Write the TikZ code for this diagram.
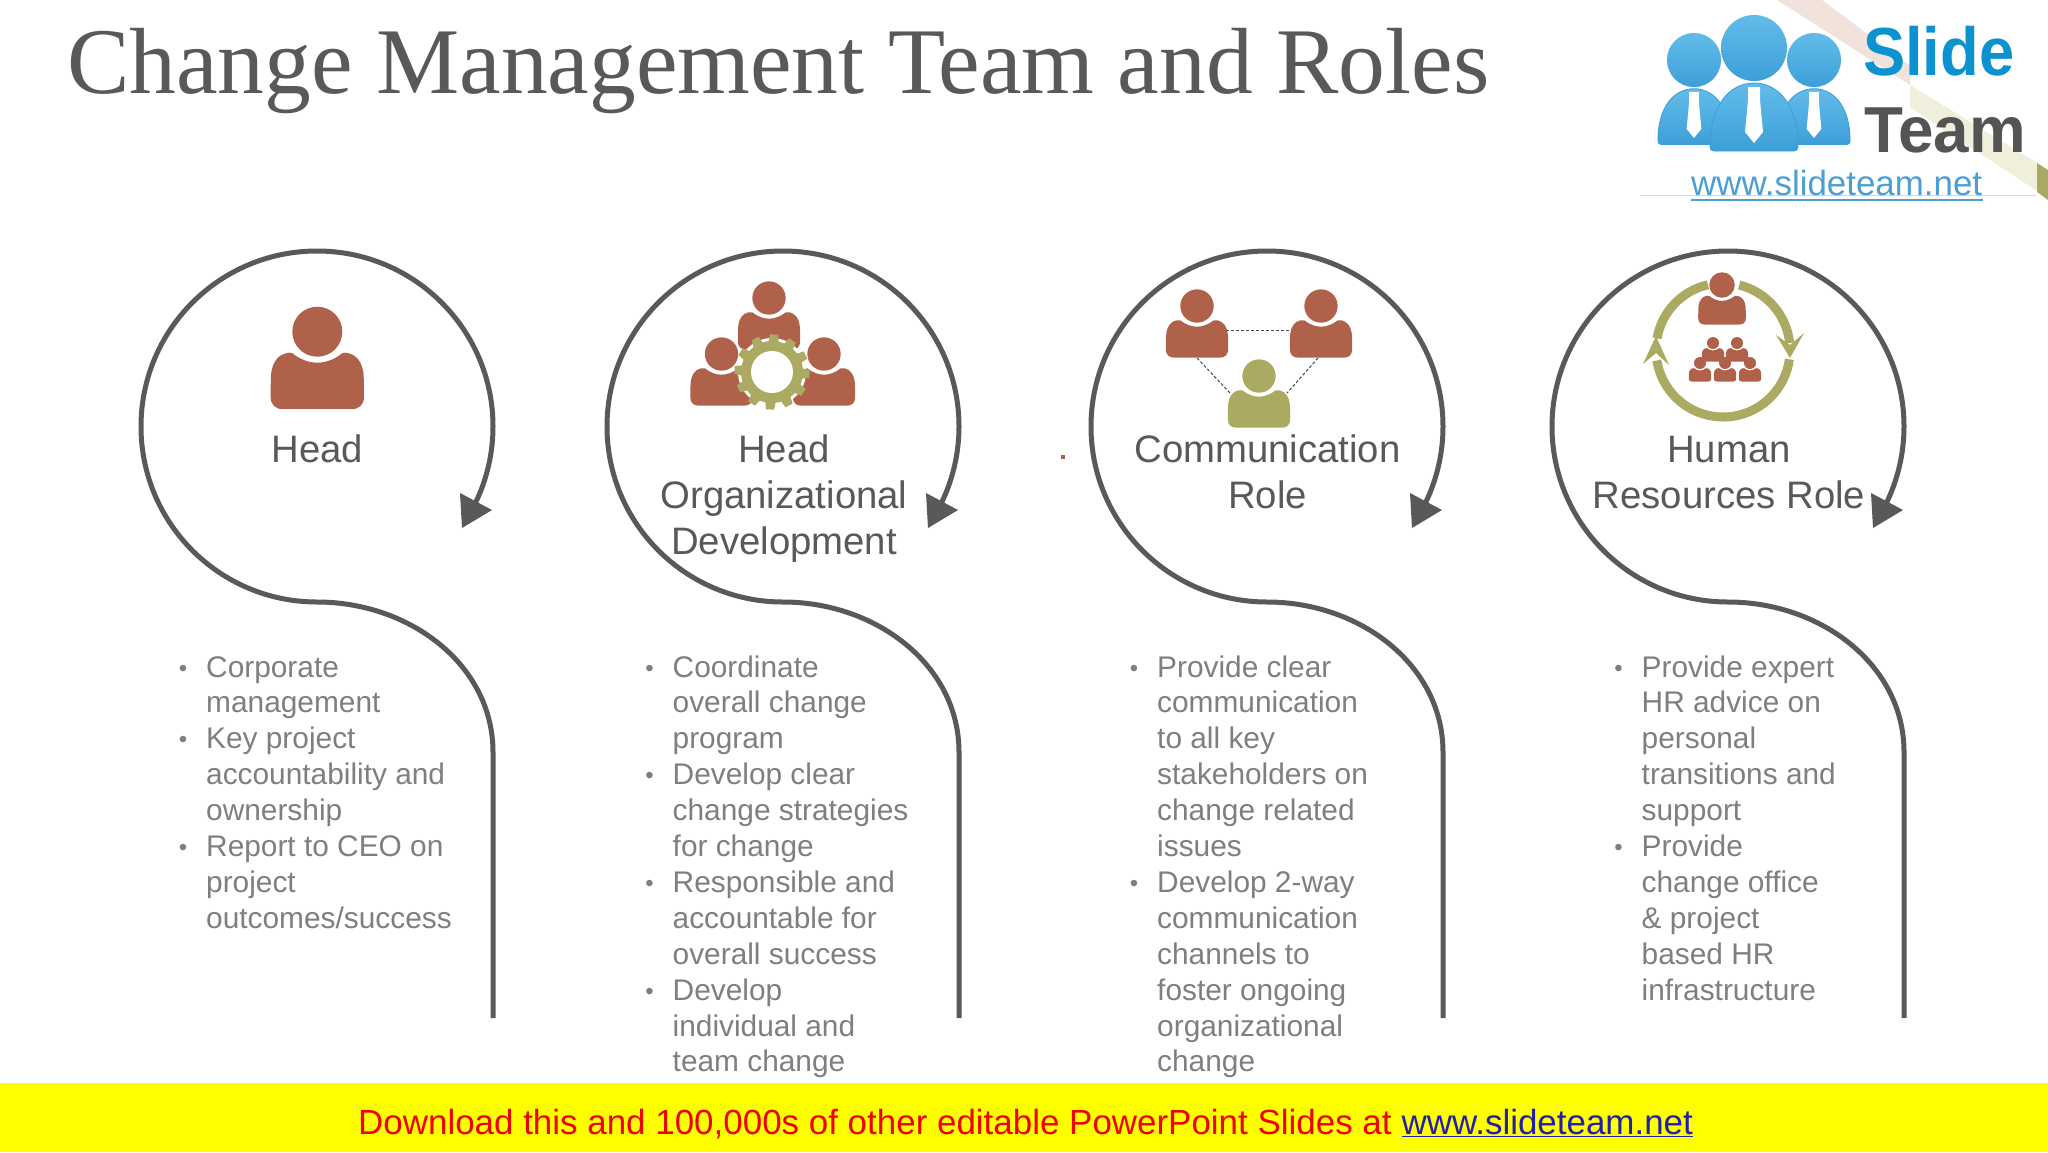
\documentclass[tikz,border=0pt]{standalone}
\usepackage{fontspec}
\setmainfont{Liberation Sans}
\newfontfamily\titlefont{Liberation Serif}
\definecolor{rust}{HTML}{B0614A}
\definecolor{olivec}{HTML}{ABAA62}
\definecolor{linec}{HTML}{595959}
\definecolor{bodyc}{HTML}{7F7F7F}
\definecolor{bandpink}{HTML}{F1E2DC}
\definecolor{bandolive}{HTML}{EFEFDC}
\definecolor{logoblue}{HTML}{4FABE0}
\definecolor{logotop}{HTML}{62BCEA}
\definecolor{logobot}{HTML}{3D9FD8}
\definecolor{slidec}{HTML}{0C92CE}
\definecolor{teamc}{HTML}{545454}
\definecolor{linkc}{HTML}{4A9FD4}
\definecolor{dlred}{HTML}{F00000}
\definecolor{dlblue}{HTML}{2020A8}
\definecolor{banner}{HTML}{FFFF00}
\newcommand{\bul}{\llap{\raisebox{1pt}{\fontsize{24}{24}\selectfont •}\hspace{19pt}}}
\newcommand{\person}[4]{%
\begin{scope}[shift={(#1,#2)},scale=#3]
\fill[#4] (0,0) circle (25);
\fill[#4] (-25,21.5) .. controls (-17,28) and (-8,31) .. (0,31) .. controls (8,31) and (17,28) .. (25,21.5)
 .. controls (29,20) and (33,22) .. (37,24) .. controls (44,29) and (46.5,38) .. (46.5,48) -- (46.7,65)
 .. controls (46.7,73) and (42,77.5) .. (34,77.5) -- (-34,77.5) .. controls (-42,77.5) and (-46.7,73) .. (-46.7,65)
 -- (-46.5,48) .. controls (-46.5,38) and (-44,29) .. (-37,24) .. controls (-33,22) and (-29,20) .. (-25,21.5) -- cycle;
\end{scope}}
\newcommand{\logoperson}[3]{%
\begin{scope}[shift={(#1,#2)},scale=#3]
\shade[top color=logotop,bottom color=logobot] (0,0) circle (33);
\shade[top color=logotop,bottom color=logobot,draw=logobot,line width=.8pt] (-44,98) .. controls (-44,58) and (-25,35) .. (0,35) .. controls (25,35) and (44,58) .. (44,98)
 .. controls (44,102) and (42,103) .. (40,103) -- (-40,103) .. controls (-42,103) and (-44,102) .. (-44,98) -- cycle;
\fill[white] (-6,39) -- (6,39) -- (6,52) -- (9,84) -- (0,95) -- (-9,84) -- (-6,52) -- cycle;
\end{scope}}
\tikzset{
 spiral/.style={draw=linec,line width=5pt},
 headtxt/.style={text=linec,inner sep=0pt,anchor=north,align=center,font=\fontsize{38.3}{46}\selectfont},
 bodytxt/.style={text=bodyc,inner sep=0pt,anchor=north west,align=left,font=\fontsize{29.85}{35.9}\selectfont},
 tie/.style={draw=linec!80!black,line width=1pt,densely dashed},
 ring/.style={draw=olivec,line width=9pt}
}
\begin{document}
\begin{tikzpicture}[x=1pt,y=1pt,yscale=-1]
\useasboundingbox (0,0) rectangle (2048,1152);
\fill[white] (0,0) rectangle (2048,1152);
% corner band
\fill[bandpink] (1777,0) -- (1822,0) -- (1910,66) -- (1910,85) -- cycle;
\fill[bandolive] (1910,85) -- (2037,163) -- (2037,191) -- (1910,107) -- cycle;
\fill[olivec] (2037,163) -- (2048,170) -- (2048,200) -- (2037,192) -- cycle;
% title
\node[anchor=base west,inner sep=0pt,text=linec] (title) at (67,93) {\resizebox{1422pt}{\height}{\titlefont\fontsize{94}{106}\selectfont Change Management Team and Roles}};
% logo
\draw[draw=black!15,line width=1pt] (1640,195) -- (2036,195);
\logoperson{1694}{60}{.82}
\logoperson{1814}{60}{.82}
\logoperson{1754}{48}{1}
\node[anchor=base west,inner sep=0pt,text=slidec] (slide) at (1863,75) {\scalebox{.93}[1]{\bfseries\fontsize{68}{68}\selectfont Slide}};
\node[anchor=base west,inner sep=0pt,text=teamc] (team) at (1864,152) {\scalebox{.98}[1]{\bfseries\fontsize{65}{65}\selectfont Team}};
\node[anchor=base west,inner sep=0pt,text=linkc] (link) at (1691,195) {\fontsize{34.9}{36}\selectfont www.slideteam.net};
\fill[linkc] (1691,198.5) rectangle (1983,201);
% spirals
\foreach \ox in {0,466,950,1411}{
 \draw[spiral] (493+\ox,1018) -- (493+\ox,752) .. controls (493+\ox,665) and (410+\ox,602) .. (317+\ox,602)
   arc[start angle=90,end angle=385.7,x radius=176,y radius=175.5];
 \fill[linec] (492+\ox,510) -- (460+\ox,493) -- (462+\ox,528) -- cycle;
}
% stray mark
\fill[rust] (1061,455) rectangle (1065,459);
% icon 1
\person{317.3}{331.7}{1}{rust}
% icon 2
\person{769}{298}{.667}{rust}
\person{721.5}{354}{.667}{rust}
\person{824}{354}{.667}{rust}
\begin{scope}[shift={(772,372)}]
\fill[white] (0,0) circle (34);
\foreach \a in {3,33,...,333}{
 \fill[olivec,rotate=\a] (-5.5,28) -- (-4,37.5) -- (4,37.5) -- (5.5,28) -- cycle;
}
\fill[olivec] (0,0) circle (31);
\fill[white] (0,0) circle (21);
\end{scope}
% icon 3
\person{1197}{306}{.667}{rust}
\person{1321}{306}{.667}{rust}
\person{1259}{376}{.667}{olivec}
\coordinate (la) at (1226,330);
\coordinate (ra) at (1290,330);
\coordinate (lb) at (1197,358);
\coordinate (ob) at (1230,393);
\coordinate (rb) at (1318,358);
\coordinate (oc) at (1287,393);
\draw[tie] (la) -- (ra);
\draw[tie] (lb) -- (ob);
\draw[tie] (rb) -- (oc);
% icon 4
\begin{scope}[shift={(1723,350)}]
\draw[ring] (-76:67) arc[start angle=-76,end angle=-6,radius=67];
\draw[ring] (-103:67) arc[start angle=-103,end angle=-170,radius=67];
\draw[ring] (8:67) arc[start angle=8,end angle=171,radius=67];
\end{scope}
\fill[olivec] (1790,358) -- (1776,335) -- (1790,345) -- (1804,333) -- cycle;
\fill[olivec] (1656,336) -- (1643,364) -- (1656,353) -- (1669,365) -- cycle;
\person{1722}{285}{.51}{rust}
\person{1713}{343}{.24}{rust}
\person{1737}{343}{.24}{rust}
\person{1700}{363}{.24}{rust}
\person{1725}{363}{.24}{rust}
\person{1750}{363}{.24}{rust}
% headings
\node[headtxt] (h1) at (317.5,424) {\rule{0pt}{38pt}Head};
\node[headtxt] (h2) at (784,424) {\rule{0pt}{38pt}Head\\Organizational\\Development};
\node[headtxt] (h3) at (1267.5,424) {\rule{0pt}{38pt}Communication\\Role};
\node[headtxt] (h4) at (1729,424) {\rule{0pt}{38pt}Human\\Resources Role};
% bodies
\node[bodytxt] (b1) at (206,646.8) {\rule{0pt}{30pt}\bul Corporate\\management\\\bul Key project\\accountability and\\ownership\\\bul Report to CEO on\\project\\outcomes/success};
\node[bodytxt] (b2) at (672.5,646.8) {\rule{0pt}{30pt}\bul Coordinate\\overall change\\program\\\bul Develop clear\\change strategies\\for change\\\bul Responsible and\\accountable for\\overall success\\\bul Develop\\individual and\\team change};
\node[bodytxt] (b3) at (1157,646.8) {\rule{0pt}{30pt}\bul Provide clear\\communication\\to all key\\stakeholders on\\change related\\issues\\\bul Develop 2-way\\communication\\channels to\\foster ongoing\\organizational\\change};
\node[bodytxt] (b4) at (1641.5,646.8) {\rule{0pt}{30pt}\bul Provide expert\\HR advice on\\personal\\transitions and\\support\\\bul Provide\\change office\\\& project\\based HR\\infrastructure};
% banner
\fill[banner] (0,1083) rectangle (2048,1152);
\node[anchor=base west,inner sep=0pt] (dl) at (358,1134) {\fontsize{34.95}{36}\selectfont\textcolor{dlred}{Download this and 100,000s of other editable PowerPoint Slides at} \textcolor{dlblue}{\underline{www.slideteam.net}}};
\end{tikzpicture}
\end{document}
